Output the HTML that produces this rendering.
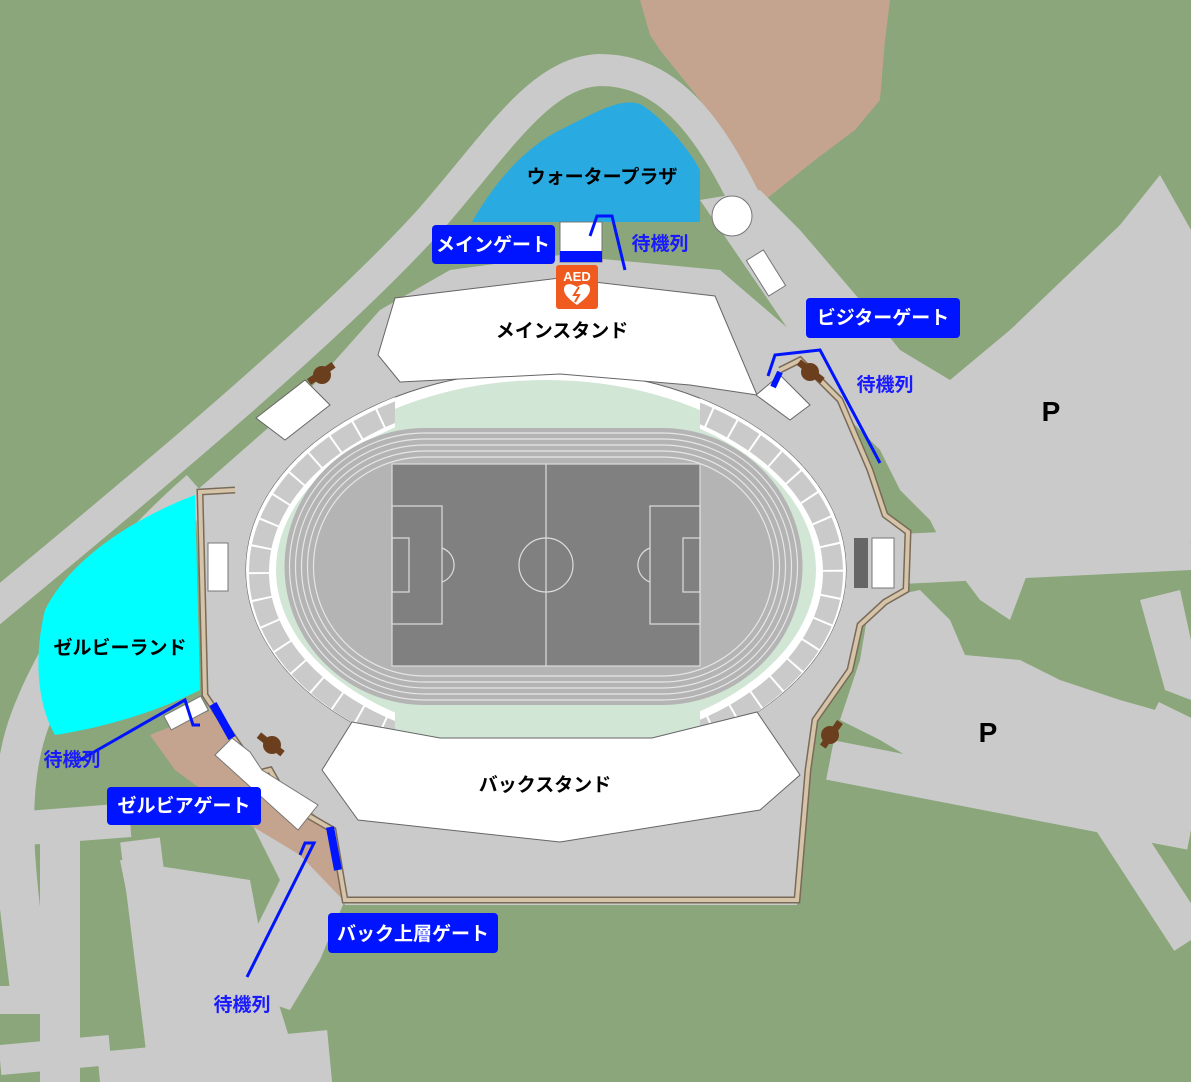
<!DOCTYPE html>
<html><head><meta charset="utf-8"><style>
html,body{margin:0;padding:0;background:#8aa67a}
svg{display:block}
.j{font-family:"Liberation Sans","Noto Sans CJK JP",sans-serif;font-weight:bold}
</style></head><body>
<svg width="1191" height="1082" viewBox="0 0 1191 1082" xmlns="http://www.w3.org/2000/svg">
<defs>
<clipPath id="sides"><rect x="0" y="0" width="395" height="1082"/><rect x="700" y="0" width="491" height="1082"/></clipPath>
</defs>
<rect width="1191" height="1082" fill="#8aa67a"/>
<!-- brown top -->
<polygon points="640,0 890,0 885,40 880,100 855,130 815,160 765,200 735,160 700,100 660,50 650,35" fill="#c4a48e"/>
<!-- roads -->
<g fill="none" stroke="#c9cac9" stroke-linecap="butt">
<path d="M-20,620 C150,480 330,330 430,220 C500,140 540,72 600,70 C670,70 710,130 745,200" stroke-width="32"/>
<path d="M30,990 C20,900 0,800 30,720 C60,640 120,560 200,490" stroke-width="40"/>
<path d="M0,830 L130,820" stroke-width="34"/>
<path d="M60,1082 L60,830" stroke-width="40"/>
<path d="M170,1082 L140,840" stroke-width="40"/>
<path d="M0,1060 L110,1050" stroke-width="30"/>
<path d="M0,1000 L50,1000" stroke-width="28"/>
<path d="M100,1082 L330,1060" stroke-width="60"/>
<path d="M880,560 L1191,545" stroke-width="50"/>
<path d="M830,760 L1191,830" stroke-width="40"/>
<path d="M1100,800 L1191,940" stroke-width="40"/>
<path d="M1150,720 L1191,740" stroke-width="40"/>
</g>
<polygon points="120,860 250,880 265,960 290,1040 160,1060" fill="#c9cac9"/>
<polygon points="250,820 300,800 330,830 345,900 320,960 290,1010 260,1000 240,960 280,880" fill="#c9cac9"/>
<!-- right gray regions -->
<polygon points="700,200 760,190 800,230 860,300 900,350 950,380 1010,330 1120,225 1160,175 1191,230 1191,540 1040,540 1010,620 980,600 950,560 930,520 900,490 880,450 850,420" fill="#c9cac9"/>
<polygon points="870,600 920,590 950,620 965,655 1020,660 1060,680 1120,700 1191,720 1191,830 1100,800 1010,790 930,770 880,740 840,720 860,660" fill="#c9cac9"/>
<polygon points="1140,600 1180,590 1191,640 1191,700 1165,690" fill="#c9cac9"/>
<!-- concourse -->
<polygon points="195,492 300,400 380,310 450,270 560,255 720,270 790,330 840,400 870,470 885,515 910,532 908,590 885,602 860,625 850,670 815,720 808,770 797,905 345,905 320,860 290,810 240,780 205,700" fill="#c9cac9"/>
<!-- cyan land -->
<path d="M195,495 L200,690 C170,705 120,725 55,735 C35,700 35,650 45,610 C70,560 130,520 195,495 Z" fill="#00ffff"/>
<!-- brown bottom -->
<polygon points="150,735 212,710 255,765 300,800 330,830 345,902 300,855 250,825 175,770" fill="#c4a48e"/>
<!-- water -->
<path d="M472,222 C490,190 520,150 560,130 C600,110 620,98 640,104 C660,115 690,150 700,170 L700,222 Z" fill="#29abe2"/>
<!-- beige wall -->
<polyline points="780,370 800,360 840,400 870,470 885,515 908,532 906,590 885,602 860,625 850,670 815,720 808,770 797,900 345,900 333,830 290,805 270,770 258,773 235,740 205,695 200,492 235,490" fill="none" stroke="#7a6a5a" stroke-width="7"/>
<polyline points="780,370 800,360 840,400 870,470 885,515 908,532 906,590 885,602 860,625 850,670 815,720 808,770 797,900 345,900 333,830 290,805 270,770 258,773 235,740 205,695 200,492 235,490" fill="none" stroke="#d6c4a8" stroke-width="4"/>
<!-- stadium -->
<ellipse cx="546" cy="570" rx="300" ry="200" fill="#fff" stroke="#666" stroke-width="1"/>
<ellipse cx="546" cy="570" rx="285" ry="190" fill="#d2e6d6"/>
<g clip-path="url(#sides)">
<ellipse cx="546" cy="570" rx="300" ry="200" fill="#fff"/>
<ellipse cx="546" cy="572" rx="287" ry="188" fill="none" stroke="#c9cac9" stroke-width="20" stroke-dasharray="24 2"/>
<ellipse cx="546" cy="572" rx="274" ry="176" fill="#fff"/>
<ellipse cx="546" cy="570" rx="270" ry="172" fill="#d2e6d6"/>
</g>
<!-- stands -->
<polygon points="378,355 395,298 560,278 715,296 757,395 690,385 560,374 400,382" fill="#fff" stroke="#666" stroke-width="1"/>
<polygon points="322,770 352,722 440,738 652,738 757,712 800,775 760,810 560,842 358,820" fill="#fff" stroke="#666" stroke-width="1"/>
<polygon points="256,418 305,380 330,405 285,440" fill="#fff" stroke="#666"/>
<polygon points="756,395 780,375 810,405 790,420" fill="#fff" stroke="#666"/>
<!-- track -->
<path d="M425,428 L662,428 A140,138 0 0 1 662,705 L425,705 A140,138 0 0 1 425,428 Z" fill="#b4b4b4"/>
<g fill="none" stroke="#e6e6e6" stroke-width="1.2">
<path d="M425,433 L662,433 A135,133 0 0 1 662,700 L425,700 A135,133 0 0 1 425,433 Z"/>
<path d="M425,439 L662,439 A129,127 0 0 1 662,694 L425,694 A129,127 0 0 1 425,439 Z"/>
<path d="M425,445 L662,445 A123,121 0 0 1 662,688 L425,688 A123,121 0 0 1 425,445 Z"/>
<path d="M425,451 L662,451 A117,115 0 0 1 662,682 L425,682 A117,115 0 0 1 425,451 Z"/>
<path d="M425,457 L662,457 A111,109 0 0 1 662,676 L425,676 A111,109 0 0 1 425,457 Z"/>
</g>
<!-- pitch -->
<rect x="392" y="464" width="308" height="202" fill="#808080"/>
<g fill="none" stroke="#ddd" stroke-width="1.2">
<rect x="392" y="464" width="308" height="202"/>
<line x1="546" y1="464" x2="546" y2="666"/>
<circle cx="546" cy="565" r="27"/>
<rect x="392" y="506" width="50" height="118"/>
<rect x="392" y="538" width="17" height="54"/>
<rect x="650" y="506" width="50" height="118"/>
<rect x="683" y="538" width="17" height="54"/>
<path d="M442,548 A18,18 0 0 1 442,582"/>
<path d="M650,548 A18,18 0 0 0 650,582"/>
</g>
<!-- small things -->
<rect x="208" y="543" width="20" height="48" fill="#fff" stroke="#777"/>
<rect x="872" y="538" width="22" height="50" fill="#fff" stroke="#777"/>
<rect x="854" y="538" width="14" height="50" fill="#666"/>
<circle cx="732" cy="216" r="20" fill="#fff" stroke="#777"/>
<rect x="756" y="252" width="20" height="42" fill="#fff" stroke="#777" transform="rotate(-32 766 273)"/>
<rect x="165" y="705" width="42" height="16" fill="#fff" stroke="#777" transform="rotate(-28 186 713)"/>
<polygon points="215,755 232,738 250,752 262,770 318,805 298,830" fill="#fff" stroke="#777"/>
<g fill="#6b3f1e"><circle cx="322" cy="375" r="9"/><rect x="306" y="370" width="30" height="7" transform="rotate(-35 321 373)"/>
<circle cx="810" cy="372" r="9"/><rect x="796" y="368" width="30" height="7" transform="rotate(38 811 371)"/>
<circle cx="272" cy="745" r="9"/><rect x="256" y="741" width="30" height="7" transform="rotate(38 271 744)"/>
<circle cx="830" cy="735" r="9"/><rect x="816" y="731" width="30" height="7" transform="rotate(-55 831 734)"/></g>
<!-- gates blue -->
<rect x="560" y="222" width="42" height="40" fill="#fff" stroke="#777"/>
<rect x="560" y="251" width="42" height="11" fill="#0014ff"/>
<line x1="213" y1="704" x2="232" y2="738" stroke="#0014ff" stroke-width="8"/>
<line x1="330" y1="827" x2="338" y2="870" stroke="#0014ff" stroke-width="8"/>
<line x1="773" y1="387" x2="780" y2="372" stroke="#0014ff" stroke-width="6"/>
<g fill="none" stroke="#0014ff" stroke-width="3">
<polyline points="590,236 597,216 612,216 625,270"/>
<polyline points="768,376 775,355 820,350 880,463"/>
<polyline points="80,760 185,700 193,725 200,725"/>
<polyline points="300,855 305,843 314,843 247,977"/>
</g>
<!-- AED -->
<rect x="556" y="265" width="42" height="44" rx="3" fill="#f05a1e"/>
<text x="577" y="281" class="j" font-size="13" fill="#fff" text-anchor="middle">AED</text>
<path d="M577,305 C566,297 564,293 564,289 C564,284 570,282 577,287 C584,282 590,284 590,289 C590,293 588,297 577,305 Z" fill="#fff"/>
<path d="M579,287 L574,295 L579,295 L575,302" stroke="#f05a1e" stroke-width="2" fill="none"/>
<!-- labels -->
<g class="j">
<rect x="432" y="225" width="123" height="39" rx="4" fill="#0014ff"/>
<text x="493" y="251" font-size="19" fill="#fff" text-anchor="middle">メインゲート</text>
<rect x="806" y="298" width="154" height="40" rx="4" fill="#0014ff"/>
<text x="883" y="324" font-size="19" fill="#fff" text-anchor="middle">ビジターゲート</text>
<rect x="107" y="787" width="154" height="38" rx="4" fill="#0014ff"/>
<text x="184" y="812" font-size="19" fill="#fff" text-anchor="middle">ゼルビアゲート</text>
<rect x="328" y="913" width="170" height="40" rx="4" fill="#0014ff"/>
<text x="413" y="940" font-size="19" fill="#fff" text-anchor="middle">バック上層ゲート</text>
<text x="602" y="183" font-size="19" fill="#000" text-anchor="middle">ウォータープラザ</text>
<text x="562" y="337" font-size="19" fill="#000" text-anchor="middle">メインスタンド</text>
<text x="545" y="791" font-size="19" fill="#000" text-anchor="middle">バックスタンド</text>
<text x="120" y="654" font-size="19" fill="#000" text-anchor="middle">ゼルビーランド</text>
<text x="1051" y="421" font-size="28" fill="#000" text-anchor="middle">P</text>
<text x="988" y="742" font-size="28" fill="#000" text-anchor="middle">P</text>
<g fill="#1a1aff" font-size="19" text-anchor="middle">
<text x="660" y="250">待機列</text>
<text x="885" y="391">待機列</text>
<text x="72" y="766">待機列</text>
<text x="242" y="1011">待機列</text>
</g>
</g>
</svg>
</body></html>
